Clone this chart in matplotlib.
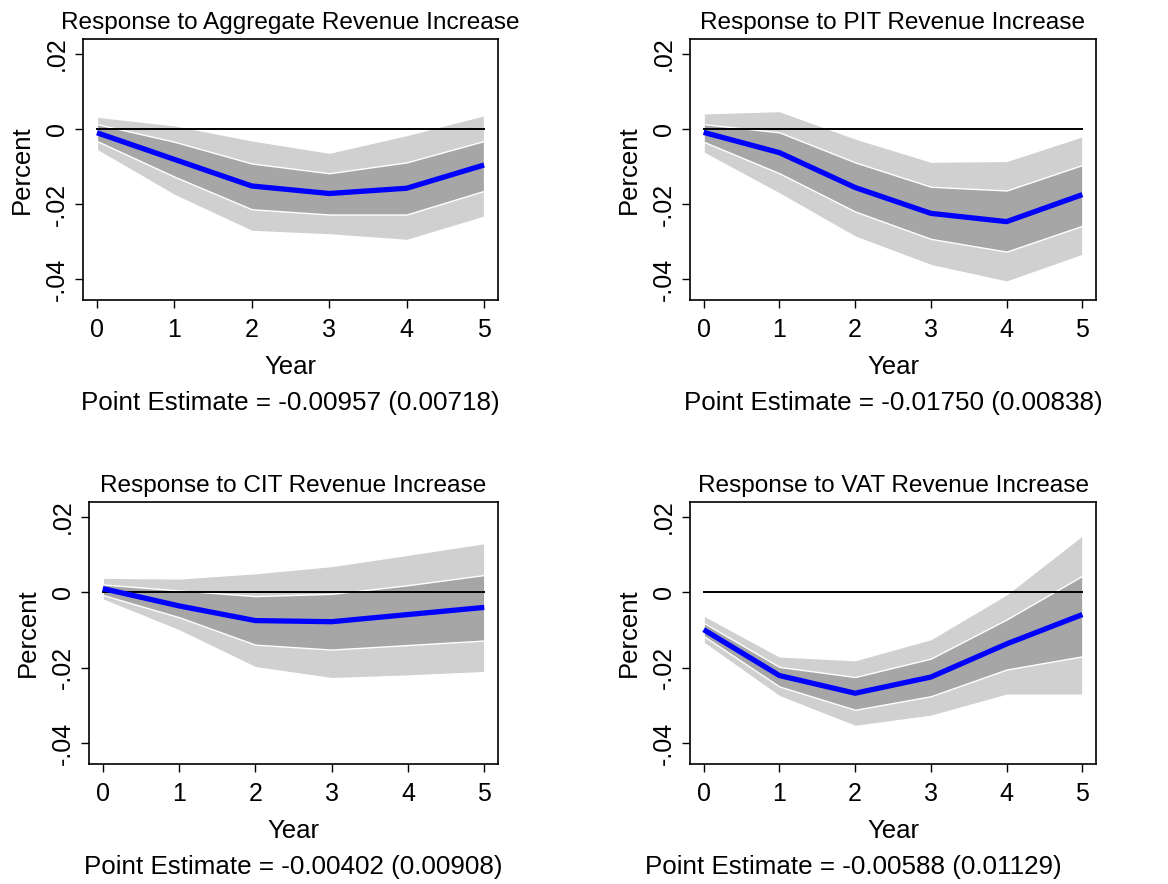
import matplotlib
matplotlib.use("Agg")
import matplotlib.pyplot as plt
import numpy as np

plt.rcParams['font.family'] = ['Liberation Sans', 'DejaVu Sans']

years = [0, 1, 2, 3, 4, 5]

titles = ["Response to Aggregate Revenue Increase",
          "Response to PIT Revenue Increase",
          "Response to CIT Revenue Increase",
          "Response to VAT Revenue Increase"]
notes = ["Point Estimate = -0.00957 (0.00718)",
         "Point Estimate = -0.01750 (0.00838)",
         "Point Estimate = -0.00402 (0.00908)",
         "Point Estimate = -0.00588 (0.01129)"]

# point estimates
agg_est = [-0.0010, -0.0081, -0.0152, -0.0172, -0.0158, -0.0096]
pit_est = [-0.0009, -0.0063, -0.0156, -0.0225, -0.0247, -0.0175]
cit_est = [0.0010, -0.0036, -0.0075, -0.0078, -0.0059, -0.0040]
vat_est = [-0.0099, -0.0221, -0.0268, -0.0225, -0.0137, -0.0059]

# inner band (68%)
agg_lo68 = [-0.0032, -0.0127, -0.0214, -0.0228, -0.0228, -0.0165]
agg_hi68 = [0.0013, -0.0034, -0.0092, -0.0118, -0.0089, -0.0032]
pit_lo68 = [-0.0034, -0.0118, -0.0220, -0.0293, -0.0327, -0.0258]
pit_hi68 = [0.0013, -0.0009, -0.0089, -0.0154, -0.0164, -0.0096]
cit_lo68 = [-0.0007, -0.0066, -0.0139, -0.0152, -0.0140, -0.0128]
cit_hi68 = [0.0021, 0.0005, -0.0010, -0.0004, 0.0019, 0.0046]
vat_lo68 = [-0.0116, -0.0250, -0.0312, -0.0276, -0.0205, -0.0170]
vat_hi68 = [-0.0081, -0.0198, -0.0225, -0.0176, -0.0072, 0.0044]

# outer band (90%)
agg_lo90 = [-0.0056, -0.0176, -0.0272, -0.0281, -0.0296, -0.0234]
agg_hi90 = [0.0033, 0.0010, -0.0030, -0.0063, -0.0016, 0.0037]
pit_lo90 = [-0.0063, -0.0172, -0.0287, -0.0363, -0.0407, -0.0336]
pit_hi90 = [0.0042, 0.0048, -0.0025, -0.0087, -0.0085, -0.0019]
cit_lo90 = [-0.0019, -0.0101, -0.0199, -0.0228, -0.0221, -0.0212]
cit_hi90 = [0.0039, 0.0037, 0.0051, 0.0070, 0.0100, 0.0131]
vat_lo90 = [-0.0134, -0.0276, -0.0355, -0.0328, -0.0272, -0.0272]
vat_hi90 = [-0.0061, -0.0170, -0.0180, -0.0124, -0.0005, 0.0152]

ests = [agg_est, pit_est, cit_est, vat_est]
lo68 = [agg_lo68, pit_lo68, cit_lo68, vat_lo68]
hi68 = [agg_hi68, pit_hi68, cit_hi68, vat_hi68]
lo90 = [agg_lo90, pit_lo90, cit_lo90, vat_lo90]
hi90 = [agg_hi90, pit_hi90, cit_hi90, vat_hi90]

ytick_vals = [-0.04, -0.02, 0, 0.02]
ytick_labels = ["-.04", "-.02", "0", ".02"]

W, H = 1168, 884
fig = plt.figure(figsize=(W / 100, H / 100), dpi=100)

# axes boxes in pixels: left, top, right, bottom
boxes = [(83, 39, 498, 300), (690, 39, 1096, 300),
         (89, 502, 498, 764), (690, 502, 1096, 764)]
note_x = [290, 893, 293, 853]

fs_title = 17.6
fs = 18.5
for i, (l, t, r, b) in enumerate(boxes):
    ax = fig.add_axes([l / W, 1 - b / H, (r - l) / W, (b - t) / H])
    ax.fill_between(years, lo90[i], hi90[i], color='#d0d0d0',
                    edgecolor='white', linewidth=1.0)
    ax.fill_between(years, lo68[i], hi68[i], color='#a6a6a6',
                    edgecolor='white', linewidth=1.0)
    ax.plot([0, 5], [0, 0], color='black', linewidth=1.4)
    ax.plot(years, ests[i], color='#0000ff', linewidth=3.8,
            solid_joinstyle='round', solid_capstyle='butt')
    ax.set_xlim(-0.18, 5.18)
    ax.set_ylim(-0.0456, 0.024)
    ax.set_xticks(years)
    ax.set_yticks(ytick_vals)
    ax.set_yticklabels(ytick_labels, rotation=90, va='center')
    ax.tick_params(direction='out', length=6, width=1, labelsize=fs - 0.5)
    ax.tick_params(axis='x', pad=7)
    ax.tick_params(axis='y', pad=4)
    for s in ax.spines.values():
        s.set_linewidth(1.2)
    ax.set_title(titles[i], fontsize=fs_title, pad=7)
    ax.set_xlabel("Year", fontsize=fs, labelpad=9)
    ax.set_ylabel("Percent", fontsize=fs, labelpad=8)
    fig.text(note_x[i] / W, 1 - (b + 103) / H, notes[i],
             fontsize=fs + 0.2, ha='center', va='center')

fig.savefig("out.png", dpi=100)
